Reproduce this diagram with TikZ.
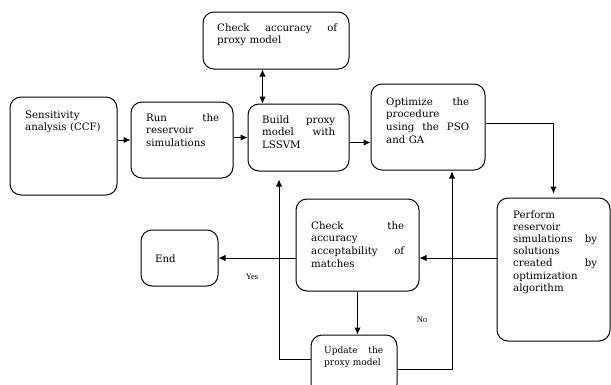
\documentclass[tikz,border=0pt]{standalone}
\usepackage{fontspec}
\setmainfont{DejaVu Serif}
\newfontfamily\lblfont{Liberation Serif}
\usetikzlibrary{arrows.meta}
\begin{document}
\begin{tikzpicture}[x=1pt,y=-1pt,
  box/.style={draw,line width=1pt,rounded corners=11pt,inner sep=0pt},
  txt/.style={anchor=base west,inner sep=0pt,align=left,font=\fontsize{10.2}{12.7}\selectfont},
  conn/.style={line width=1pt},
  arr/.style={conn,-{Latex[length=7pt,width=6.5pt]}},
  lbl/.style={inner sep=0pt,font=\lblfont\fontsize{8.5}{9}\selectfont}]
\useasboundingbox (0,0) rectangle (611,384);
\clip (0,0) rectangle (611,384);
% boxes
\node[box,minimum width=146pt,minimum height=57pt] (chk) at (276,40.5) {};
\node[box,minimum width=107pt,minimum height=98pt] (sens) at (63.5,146) {};
\node[box,minimum width=102pt,minimum height=76pt] (run) at (182,140) {};
\node[box,minimum width=101pt,minimum height=67pt] (build) at (298.5,137.5) {};
\node[box,minimum width=114pt,minimum height=86pt] (opt) at (428,127) {};
\node[box,minimum width=113pt,minimum height=143pt] (perf) at (553.5,269.5) {};
\node[box,minimum width=123pt,minimum height=92pt] (acc) at (357.5,245) {};
\node[box,minimum width=77pt,minimum height=56pt] (end) at (179.5,258) {};
\node[box,minimum width=86pt,minimum height=60pt] (upd) at (354,365) {};
% texts
\node[txt,text width=120pt] (chkt) at (217,31) {Check\hfill accuracy\hfill of\\proxy model};
\node[txt,text width=86pt] (senst) at (25,118) {Sensitivity\\analysis (CCF)};
\node[txt,text width=73pt] (runt) at (146,121) {Run\hfill the\\reservoir\\simulations};
\node[txt,text width=73pt] (buildt) at (262,123) {Build\hfill proxy\\model\hfill with\\LSSVM};
\node[txt,text width=83pt] (optt) at (386,105) {Optimize\hfill the\\procedure\\using\hfill the\hfill PSO\\and GA};
\node[txt,text width=84pt,font=\fontsize{10.2}{12.2}\selectfont] (perft) at (513,218) {Perform\\reservoir\\simulations\hfill by\\solutions\\created\hfill by\\optimization\\algorithm};
\node[txt,text width=93pt] (acct) at (311,229) {Check\hfill the\\accuracy\\acceptability\hfill of\\matches};
\node[txt] (endt) at (155,262) {End};
\node[txt,text width=59pt,font=\fontsize{9}{12}\selectfont] (updt) at (324,353) {Update\hfill the\\proxy model};
% connectors
\draw[arr] (sens.east |- run.west) -- (run.west);
\draw[arr] (run.east |- build.west) -- (build.west);
\draw[arr] ([yshift=-5pt]build.east) -- ([yshift=-5pt]build.east -| opt.west);
\draw[conn,{Latex[length=7pt,width=6.5pt]}-{Latex[length=7pt,width=6.5pt]}] ([xshift=-13.5pt]chk.south) -- ([xshift=-13.5pt]chk.south |- build.north);
\draw[arr,shorten >=4pt] ([yshift=4pt]opt.east) -| (perf.north);
\draw[arr] (perf.west |- end.east) -- (acc.east |- end.east);
\draw[arr] (acc.west |- end.east) -- (end.east);
\draw[arr] (acc.south) -- (acc.south |- upd.north);
\draw[arr,shorten >=8pt] ([yshift=6pt]upd.west) -| ([xshift=-19.5pt]build.south);
\draw[arr,shorten >=1pt] ([yshift=-4pt]upd.east) -| ([xshift=24pt]opt.south);
% labels
\node[lbl] (yes) at (252,277) {Yes};
\node[lbl] (no) at (422,320) {No};
\end{tikzpicture}
\end{document}
